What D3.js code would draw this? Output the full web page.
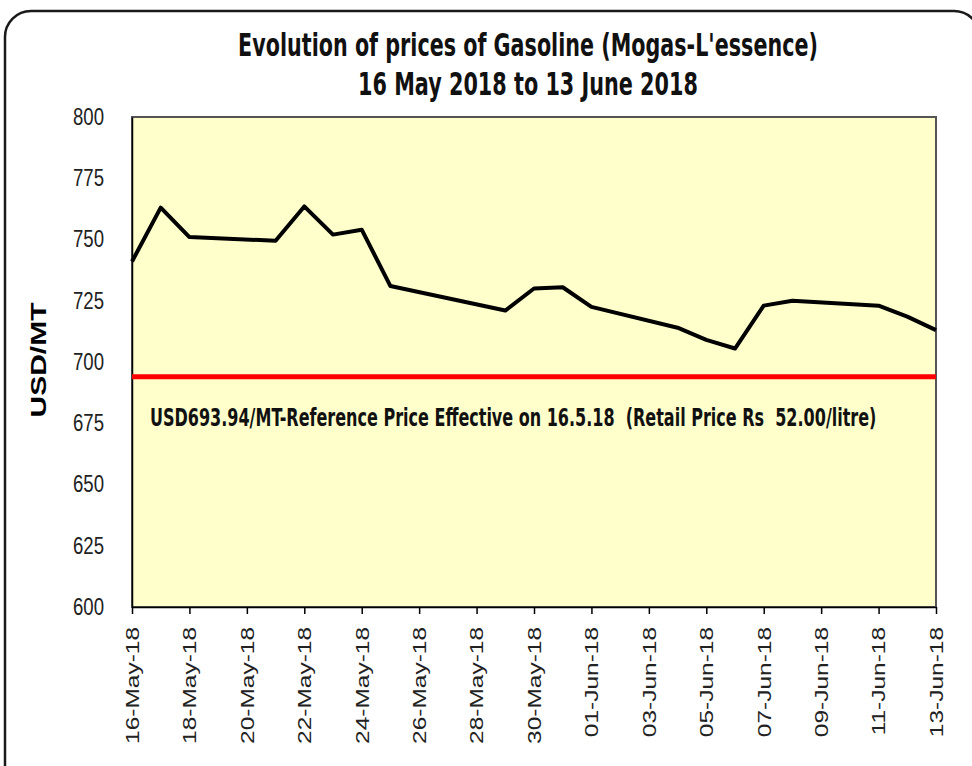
<!DOCTYPE html>
<html>
<head>
<meta charset="utf-8">
<script src="https://cdn.jsdelivr.net/npm/d3@7"></script>
<style>
  body { margin: 0; background: #fff; }
  svg { display: block; }
</style>
</head>
<body>
<div id="chart"></div>
<script>
// chart data
var dates = ["2018-05-16","2018-05-17","2018-05-18","2018-05-21","2018-05-22","2018-05-23",
             "2018-05-24","2018-05-25","2018-05-29","2018-05-30","2018-05-31","2018-06-01",
             "2018-06-04","2018-06-05","2018-06-06","2018-06-07","2018-06-08","2018-06-11",
             "2018-06-12","2018-06-13"];
var prices = [741, 763, 751, 749.5, 763.5, 752, 754, 731, 721, 730, 730.5, 722.5,
              714, 709, 705.5, 723, 725, 723, 718.5, 713];
var tickDates = ["2018-05-16","2018-05-18","2018-05-20","2018-05-22","2018-05-24","2018-05-26",
                 "2018-05-28","2018-05-30","2018-06-01","2018-06-03","2018-06-05","2018-06-07",
                 "2018-06-09","2018-06-11","2018-06-13"];
var yTicks = [600, 625, 650, 675, 700, 725, 750, 775, 800];
var refPrice = 693.94;
var titleLines = ["Evolution of prices of Gasoline (Mogas-L'essence)", "16 May 2018 to 13 June 2018"];
var refLabel = "USD693.94/MT-Reference Price Effective on 16.5.18  (Retail Price Rs  52.00/litre)";

var W = 972, H = 766;
var margin = {top: 117, right: 36, bottom: 159, left: 132},
    w = W - margin.left - margin.right,
    h = H - margin.top - margin.bottom;

var parse = d3.timeParse("%Y-%m-%d");
var data = dates.map(function(d, i) { return {date: parse(d), price: prices[i]}; });

var svg = d3.select("#chart").append("svg")
  .attr("width", W)
  .attr("height", H);

// squeeze a text horizontally so it spans the wanted width
function fitText(sel, pre, width) {
  var n = sel.node().getComputedTextLength();
  var k = width / n;
  sel.attr("transform", pre + " scale(" + k + ",1)");
}

// outer rounded frame
svg.append("rect")
  .attr("x", 5).attr("y", 11)
  .attr("width", 975).attr("height", 790)
  .attr("rx", 26)
  .style("fill", "none")
  .style("stroke", "#1a1a1a")
  .style("stroke-width", 2.5);

// titles
var fontMain = "'Liberation Sans Narrow', 'DejaVu Sans Condensed', 'Liberation Sans', sans-serif";
var t1 = svg.append("text")
  .attr("text-anchor", "middle")
  .style("font-family", fontMain).style("font-weight", "bold").style("font-size", "32px")
  .style("fill", "#111")
  .text(titleLines[0]);
fitText(t1, "translate(528,56)", 580);
var t2 = svg.append("text")
  .attr("text-anchor", "middle")
  .style("font-family", fontMain).style("font-weight", "bold").style("font-size", "32px")
  .style("fill", "#111")
  .text(titleLines[1]);
fitText(t2, "translate(528,95)", 340);

var g = svg.append("g")
  .attr("transform", "translate(" + margin.left + "," + margin.top + ")");

var x = d3.scaleTime()
  .domain([parse(dates[0]), parse(dates[dates.length - 1])])
  .range([0, w]);

var y = d3.scaleLinear()
  .domain([600, 800])
  .range([h, 0]);

// plot area
g.append("rect")
  .attr("width", w).attr("height", h)
  .style("fill", "#FFFFCC")
  .style("stroke", "#555")
  .style("stroke-width", 2);

// Y axis
var yAxis = g.append("g")
  .call(d3.axisLeft(y).tickValues(yTicks).tickSize(0).tickPadding(28));
yAxis.select(".domain").style("stroke", "#000").style("stroke-width", 1.5);
yAxis.selectAll("text")
  .attr("textLength", 31).attr("lengthAdjust", "spacingAndGlyphs")
  .style("font-family", "'Liberation Sans', Arial, sans-serif")
  .style("font-size", "23px")
  .style("fill", "#222");

// X axis
var xAxis = g.append("g")
  .attr("transform", "translate(0," + h + ")")
  .call(d3.axisBottom(x)
    .tickValues(tickDates.map(parse))
    .tickFormat(d3.timeFormat("%d-%b-%y"))
    .tickSize(7)
    .tickSizeOuter(0));
xAxis.select(".domain").style("stroke", "#000").style("stroke-width", 1.5);
xAxis.selectAll(".tick line").style("stroke", "#000").style("stroke-width", 1.5);
var sx = 1.36;
xAxis.selectAll("text")
  .attr("transform", "rotate(-90) scale(" + sx + ",1)")
  .attr("x", -20 / sx)
  .attr("y", 0)
  .attr("dy", "0.35em")
  .attr("text-anchor", "end")
  .style("font-family", "'Liberation Sans', Arial, sans-serif")
  .style("font-size", "18px")
  .style("fill", "#222");

// reference line
g.append("line")
  .attr("x1", 0).attr("x2", w)
  .attr("y1", y(refPrice)).attr("y2", y(refPrice))
  .style("stroke", "#FF0000")
  .style("stroke-width", 5);

var ref = g.append("text")
  .style("font-family", fontMain).style("font-weight", "bold").style("font-size", "25px")
  .style("white-space", "pre")
  .style("fill", "#111")
  .text(refLabel);
fitText(ref, "translate(18," + (y(refPrice) + 49) + ")", 727);

// price line
var line = d3.line()
  .x(function(d) { return x(d.date); })
  .y(function(d) { return y(d.price); });

g.append("path")
  .datum(data)
  .attr("d", line)
  .style("fill", "none")
  .style("stroke", "#000")
  .style("stroke-width", 4)
  .style("stroke-linejoin", "round");

// Y axis label
var yl = svg.append("text")
  .attr("text-anchor", "middle")
  .style("font-family", "'Liberation Sans', Arial, sans-serif")
  .style("font-weight", "bold").style("font-size", "22px")
  .style("fill", "#000")
  .text("USD/MT");
fitText(yl, "translate(46,360) rotate(-90)", 115);
</script>
</body>
</html>
